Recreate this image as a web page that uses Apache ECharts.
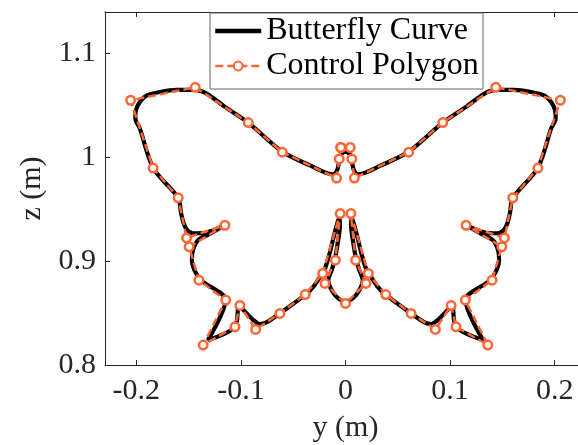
<!DOCTYPE html>
<html>
<head>
<meta charset="utf-8">
<script src="https://cdn.jsdelivr.net/npm/echarts@6/dist/echarts.min.js"></script>
<style>html,body{margin:0;padding:0;background:#fff}#c{width:578px;height:445px}</style>
</head>
<body>
<div id="c"></div>
<script>
const seriesNames = ['Butterfly Curve', 'Control Polygon'];
const xTicks = [-0.2, -0.1, 0, 0.1, 0.2];
const xTickLabels = ['-0.2', '-0.1', '0', '0.1', '0.2'];
const yTicks = [0.8, 0.9, 1.0, 1.1];
const yTickLabels = ['0.8', '0.9', '1', '1.1'];
const xRange = [-0.23, 0.23];
const yRange = [0.8, 1.14];

// Control polygon vertices [y, z]
const controlPolygon = [
  [-0.0045, 1.0095], [-0.0060, 0.9985], [-0.0085, 0.9800], [-0.0605, 1.0050],
  [-0.0930, 1.0335], [-0.1437, 1.0675], [-0.2055, 1.0550], [-0.1840, 0.9897],
  [-0.1600, 0.9610], [-0.1520, 0.9224], [-0.1153, 0.9346], [-0.1495, 0.9138],
  [-0.1402, 0.8817], [-0.1146, 0.8625], [-0.1361, 0.8192], [-0.1057, 0.8368],
  [-0.1010, 0.8574], [-0.0859, 0.8343], [-0.0627, 0.8497], [-0.0385, 0.8678],
  [-0.0218, 0.8882], [-0.0051, 0.9459], [-0.0097, 0.9010], [-0.0196, 0.8786],
  [0.0000, 0.8593],
  [0.0196, 0.8786], [0.0097, 0.9010], [0.0051, 0.9459], [0.0218, 0.8882],
  [0.0385, 0.8678], [0.0627, 0.8497], [0.0859, 0.8343], [0.1010, 0.8574],
  [0.1057, 0.8368], [0.1361, 0.8192], [0.1146, 0.8625], [0.1402, 0.8817],
  [0.1495, 0.9138], [0.1153, 0.9346], [0.1520, 0.9224], [0.1600, 0.9610],
  [0.1840, 0.9897], [0.2055, 1.0550], [0.1437, 1.0675], [0.0930, 1.0335],
  [0.0605, 1.0050], [0.0085, 0.9800], [0.0060, 0.9985], [0.0045, 1.0095],
  [-0.0045, 1.0095]
];

// Butterfly curve samples [y, z]
const butterflyCurve = [
  [0.0000, 1.0058], [-0.0043, 1.0029], [-0.0062, 0.9952], [-0.0081, 0.9875],
  [-0.0120, 0.9837], [-0.0340, 0.9923], [-0.0603, 1.0053], [-0.0930, 1.0334],
  [-0.1153, 1.0486], [-0.1325, 1.0611], [-0.1440, 1.0649], [-0.1612, 1.0649],
  [-0.1775, 1.0630], [-0.1900, 1.0596], [-0.1967, 1.0534], [-0.2005, 1.0452],
  [-0.2010, 1.0375], [-0.1967, 1.0279], [-0.1839, 0.9897], [-0.1600, 0.9609],
  [-0.1574, 0.9471], [-0.1550, 0.9370], [-0.1517, 0.9303], [-0.1459, 0.9269],
  [-0.1344, 0.9274], [-0.1239, 0.9308], [-0.1172, 0.9337], [-0.1287, 0.9269],
  [-0.1411, 0.9202], [-0.1459, 0.9106], [-0.1469, 0.9010], [-0.1445, 0.8913],
  [-0.1383, 0.8817], [-0.1146, 0.8625], [-0.1316, 0.8240], [-0.1057, 0.8368],
  [-0.1019, 0.8567], [-0.0945, 0.8497], [-0.0882, 0.8433], [-0.0818, 0.8394],
  [-0.0751, 0.8413], [-0.0627, 0.8497], [-0.0383, 0.8678], [-0.0308, 0.8753],
  [-0.0244, 0.8849], [-0.0196, 0.8930], [-0.0148, 0.9089], [-0.0117, 0.9218],
  [-0.0084, 0.9346], [-0.0059, 0.9423], [-0.0053, 0.9346], [-0.0078, 0.9154],
  [-0.0100, 0.9026], [-0.0132, 0.8913], [-0.0165, 0.8817], [-0.0132, 0.8721],
  [-0.0069, 0.8641], [0.0000, 0.8611],
  [0.0069, 0.8641], [0.0132, 0.8721], [0.0165, 0.8817], [0.0132, 0.8913],
  [0.0100, 0.9026], [0.0078, 0.9154], [0.0053, 0.9346], [0.0059, 0.9423],
  [0.0084, 0.9346], [0.0117, 0.9218], [0.0148, 0.9089], [0.0196, 0.8930],
  [0.0244, 0.8849], [0.0308, 0.8753], [0.0383, 0.8678], [0.0627, 0.8497],
  [0.0751, 0.8413], [0.0818, 0.8394], [0.0882, 0.8433], [0.0945, 0.8497],
  [0.1019, 0.8567], [0.1057, 0.8368], [0.1316, 0.8240], [0.1146, 0.8625],
  [0.1383, 0.8817], [0.1445, 0.8913], [0.1469, 0.9010], [0.1459, 0.9106],
  [0.1411, 0.9202], [0.1287, 0.9269], [0.1172, 0.9337], [0.1239, 0.9308],
  [0.1344, 0.9274], [0.1459, 0.9269], [0.1517, 0.9303], [0.1550, 0.9370],
  [0.1574, 0.9471], [0.1600, 0.9609], [0.1839, 0.9897], [0.1967, 1.0279],
  [0.2010, 1.0375], [0.2005, 1.0452], [0.1967, 1.0534], [0.1900, 1.0596],
  [0.1775, 1.0630], [0.1612, 1.0649], [0.1440, 1.0649], [0.1325, 1.0611],
  [0.1153, 1.0486], [0.0930, 1.0334], [0.0603, 1.0053], [0.0340, 0.9923],
  [0.0120, 0.9837], [0.0081, 0.9875], [0.0062, 0.9952], [0.0043, 1.0029],
  [0.0000, 1.0058]
];

const FONT = 'Liberation Serif';
const AX = '#262626';
const ORANGE = '#ff6633';

function fmt(vals, labels) {
  return function (v) {
    for (let i = 0; i < vals.length; i++) if (Math.abs(v - vals[i]) < 1e-9) return labels[i];
    return '';
  };
}

const chart = echarts.init(document.getElementById('c'), null, {renderer: 'canvas'});
const axisBase = {
  type: 'value',
  axisLine: {show: true, onZero: false, lineStyle: {color: AX, width: 1}},
  axisTick: {show: true, inside: true, length: 5, lineStyle: {color: AX, width: 1}},
  splitLine: {show: false}
};
chart.setOption({
  animation: false,
  backgroundColor: '#fff',
  grid: {left: 105, right: -8, top: 12, bottom: 80, containLabel: false, outerBoundsMode: 'none'},
  xAxis: [
    Object.assign({}, axisBase, {
      position: 'bottom', min: xRange[0], max: xRange[1],
      axisTick: Object.assign({}, axisBase.axisTick, {customValues: xTicks}),
      axisLabel: {customValues: xTicks, formatter: fmt(xTicks, xTickLabels), margin: 11,
        fontFamily: FONT, fontSize: 30, color: AX},
      name: 'y (m)', nameLocation: 'middle', nameGap: 48,
      nameTextStyle: {fontFamily: FONT, fontSize: 30, color: AX}
    }),
    Object.assign({}, axisBase, {
      position: 'top', min: xRange[0], max: xRange[1],
      axisTick: Object.assign({}, axisBase.axisTick, {customValues: xTicks}),
      axisLabel: {show: false}
    })
  ],
  yAxis: [
    Object.assign({}, axisBase, {
      position: 'left', min: yRange[0], max: yRange[1],
      axisTick: Object.assign({}, axisBase.axisTick, {customValues: yTicks}),
      axisLabel: {customValues: yTicks, formatter: fmt(yTicks, yTickLabels), margin: 9,
        fontFamily: FONT, fontSize: 30, color: AX},
      name: 'z (m)', nameLocation: 'middle', nameGap: 57,
      nameTextStyle: {fontFamily: FONT, fontSize: 30, color: AX}
    }),
    Object.assign({}, axisBase, {
      position: 'right', min: yRange[0], max: yRange[1],
      axisTick: Object.assign({}, axisBase.axisTick, {customValues: yTicks}),
      axisLabel: {show: false}
    })
  ],
  graphic: [{
    type: 'rect', z: 3, left: 209.5, top: 12.5,
    shape: {width: 273, height: 76},
    style: {fill: '#fff', stroke: '#666', lineWidth: 1}
  }],
  legend: {
    orient: 'vertical', left: 213, top: 14, z: 10,
    itemWidth: 46, itemHeight: 11, itemGap: 1, padding: 0,
    textStyle: {fontFamily: FONT, fontSize: 32, color: '#000', lineHeight: 34},
    data: [
      {name: seriesNames[0], lineStyle: {width: 4.5, color: '#000'}},
      {name: seriesNames[1], lineStyle: {width: 2.5, color: ORANGE, type: [8, 4]}}
    ]
  },
  series: [
    {
      name: seriesNames[0], type: 'line', data: butterflyCurve,
      symbol: 'circle', showSymbol: false, symbolSize: 0,
      itemStyle: {color: 'transparent'},
      smooth: 0.3, lineStyle: {color: '#000', width: 4.2}, z: 2, silent: true
    },
    {
      name: seriesNames[1], type: 'line', data: controlPolygon,
      symbol: 'circle', symbolSize: 8.5,
      itemStyle: {color: '#fff', borderColor: ORANGE, borderWidth: 2.5},
      lineStyle: {color: ORANGE, width: 2.5, type: [8, 4]}, z: 3, silent: true
    }
  ]
});
</script>
</body>
</html>
